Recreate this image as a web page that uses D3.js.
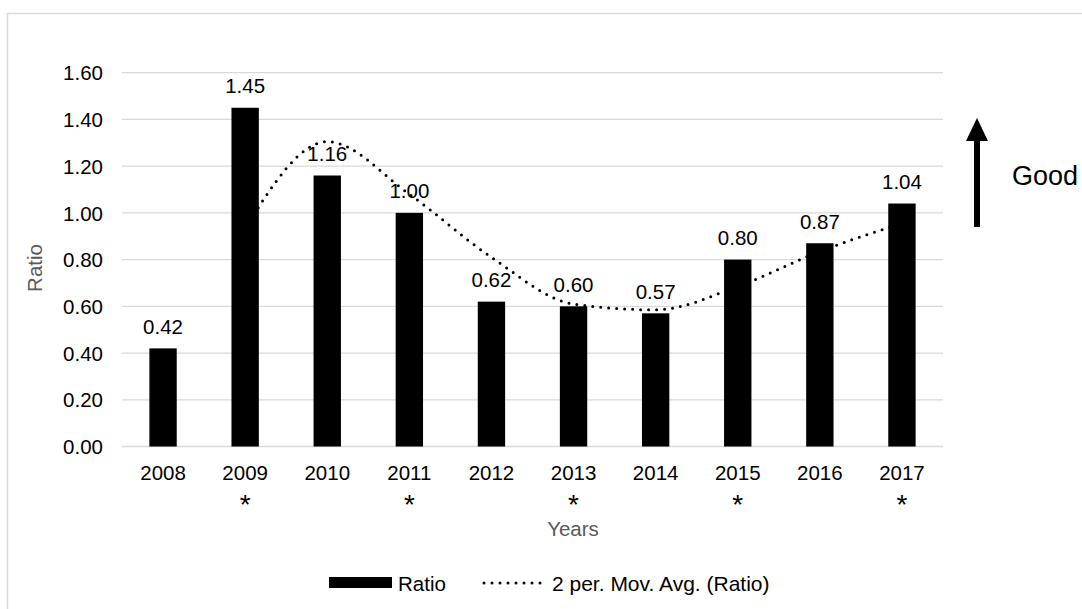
<!DOCTYPE html>
<html><head><meta charset="utf-8">
<script src="https://cdn.jsdelivr.net/npm/d3@7"></script>
<style>
html,body{margin:0;padding:0;background:#fff;}
svg{display:block;font-family:"Liberation Sans",Arial,sans-serif;}
</style></head>
<body>
<svg id="chart" width="1082" height="609"></svg>
<script>
const years = ["2008","2009","2010","2011","2012","2013","2014","2015","2016","2017"];
const starred = ["2009","2011","2013","2015","2017"];
const ratio = [0.42,1.45,1.16,1.00,0.62,0.60,0.57,0.80,0.87,1.04];
const yTicks = [0,0.2,0.4,0.6,0.8,1.0,1.2,1.4,1.6];
const maPeriod = 2;

(function(){
const svg = d3.select("#chart");
const pLeft = 122, pRight = 943, pTop = 72.7, pBottom = 446.5;

// chart border
svg.append("rect").attr("x",7.5).attr("y",13.5).attr("width",1200).attr("height",700)
  .attr("fill","#fff").attr("stroke","#d9d9d9").attr("stroke-width",1.5);

const x = d3.scaleBand().domain(years).range([pLeft,pRight]).padding(0);
const y = d3.scaleLinear().domain([0,1.6]).range([pBottom,pTop]);
const step = x.step();

// gridlines
svg.append("g").selectAll("line").data(yTicks).join("line")
  .attr("x1",pLeft).attr("x2",pRight)
  .attr("y1",d=>y(d)).attr("y2",d=>y(d))
  .attr("stroke","#d9d9d9").attr("stroke-width",1.3);

// y tick labels via axis
const yAxis = d3.axisLeft(y).tickValues(yTicks).tickFormat(d3.format(".2f")).tickSize(0).tickPadding(0);
const gy = svg.append("g").attr("transform",`translate(103,0)`).call(yAxis);
gy.select(".domain").remove();
gy.selectAll("text").attr("font-size","20.5px").attr("fill","#000")
  .attr("font-family","'Liberation Sans',Arial,sans-serif").attr("dy","0.35em");

// x tick labels via axis
const xAxis = d3.axisBottom(x).tickSize(0).tickPadding(0);
const gx = svg.append("g").attr("transform",`translate(0,${pBottom})`).call(xAxis);
gx.select(".domain").remove();
gx.selectAll("text").attr("font-size","20.5px").attr("fill","#000")
  .attr("font-family","'Liberation Sans',Arial,sans-serif").attr("dy",null).attr("y",33.5);
// asterisks
svg.append("g").selectAll("text").data(starred).join("text")
  .attr("x",d=>x(d)+step/2).attr("y",514)
  .attr("text-anchor","middle").attr("font-size","28px").attr("fill","#000")
  .text("*");

// bars
const data = years.map((yr,i)=>({yr, v: ratio[i]}));
svg.append("g").selectAll("rect").data(data).join("rect")
  .attr("x",d=>x(d.yr)+step/3).attr("width",step/3)
  .attr("y",d=>y(d.v)).attr("height",d=>y(0)-y(d.v))
  .attr("fill","#000");

// moving average
const ma = [];
for (let i=maPeriod-1;i<ratio.length;i++){
  let s=0; for(let k=0;k<maPeriod;k++) s+=ratio[i-k];
  ma.push({yr: years[i], v: s/maPeriod});
}
const line = d3.line().x(d=>x(d.yr)+step/2).y(d=>y(d.v)).curve(d3.curveMonotoneX);
svg.append("path").datum(ma).attr("d",line).attr("fill","none")
  .attr("stroke","#000").attr("stroke-width",3).attr("stroke-linecap","round")
  .attr("stroke-dasharray","0 8");

// data labels
svg.append("g").selectAll("text").data(data).join("text")
  .attr("x",d=>x(d.yr)+step/2).attr("y",d=>y(d.v)-14.5)
  .attr("text-anchor","middle").attr("font-size","20.5px").attr("fill","#000")
  .text(d=>d3.format(".2f")(d.v));

// axis titles
svg.append("text").attr("x",573).attr("y",536).attr("text-anchor","middle")
  .attr("font-size","20.5px").attr("fill","#595959").text("Years");
svg.append("text").attr("transform","translate(42,268) rotate(-90)").attr("text-anchor","middle")
  .attr("font-size","20.5px").attr("fill","#595959").text("Ratio");

// legend
const lg = svg.append("g");
lg.append("rect").attr("x",329).attr("y",577).attr("width",63).attr("height",11).attr("fill","#000");
lg.append("text").attr("x",398).attr("y",590.5).attr("font-size","20.5px").attr("fill","#000").text("Ratio");
lg.append("line").attr("x1",484).attr("x2",547).attr("y1",583).attr("y2",583)
  .attr("stroke","#000").attr("stroke-width",3).attr("stroke-linecap","round").attr("stroke-dasharray","0 8");
lg.append("text").attr("x",552).attr("y",590.5).attr("font-size","21px").attr("fill","#000").text("2 per. Mov. Avg. (Ratio)");

// Good arrow
svg.append("line").attr("x1",977).attr("x2",977).attr("y1",227).attr("y2",138)
  .attr("stroke","#000").attr("stroke-width",6);
svg.append("path").attr("d","M966,141 L977,118 L988,141 Z").attr("fill","#000");
svg.append("text").attr("x",1012).attr("y",185).attr("font-size","27px").attr("fill","#000").text("Good");
})();
</script>
</body></html>
